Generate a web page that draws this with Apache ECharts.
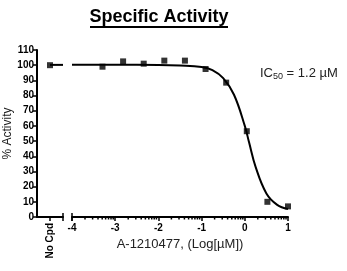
<!DOCTYPE html>
<html>
<head>
<meta charset="utf-8">
<script src="https://cdn.jsdelivr.net/npm/echarts@6/dist/echarts.min.js"></script>
<style>html,body{margin:0;padding:0;background:#fff;}#c{width:347px;height:271px;}</style>
</head>
<body>
<div id="c"></div>
<script>
// ---- data ----
var noCpdLabel = ['No Cpd'];
var noCpdValue = [100];
var logConc = [-3.294, -2.817, -2.340, -1.863, -1.386, -0.908, -0.431, 0.046, 0.523, 1.0];
var activity = [99, 102.5, 101, 103, 103, 97.5, 88.5, 56.5, 10, 7];
// fitted curve
var curveX = [-4, -3, -2, -1.5, -1, -0.75, -0.5, -0.25, 0, 0.1, 0.25, 0.5, 0.75, 1];
var curveY = [100.3, 100.3, 100.2, 99.8, 98.8, 96.8, 91.5, 80.5, 60, 49, 33, 15.5, 8, 5.3];
var noCpdLine = [100.2, 100.2];
var yTicks = [0, 10, 20, 30, 40, 50, 60, 70, 80, 90, 100, 110];
var xTicks = [-4, -3, -2, -1, 0, 1];
var titleText = 'Specific Activity';
var xName = 'A-1210477, (Log[\u00b5M])';
var yName = '% Activity';

var FONT = 'Arial, "Liberation Sans", sans-serif';
var minorTicks = [];
for (var d = xTicks[0]; d < xTicks[xTicks.length - 1]; d++) {
  for (var k = 2; k <= 9; k++) minorTicks.push([d + Math.log10(k)]);
}

var chart = echarts.init(document.getElementById('c'));
function tickRender(len, up) {
  return function (params, api) {
    var p = api.coord([api.value(0), 0]);
    return {
      type: 'line',
      shape: { x1: p[0], y1: p[1] - up, x2: p[0], y2: p[1] + len },
      style: { stroke: '#000', lineWidth: 1.5 }
    };
  };
}
var axisLineStyle = { color: '#000', width: 2 };
chart.setOption({
  animation: false,
  graphic: [
    { type: 'text', x: 159, y: 17, style: { text: titleText, font: 'bold 18px ' + FONT, fill: '#000', textAlign: 'center', textVerticalAlign: 'middle' } },
    { type: 'line', shape: { x1: 90, y1: 27, x2: 228, y2: 27 }, style: { stroke: '#000', lineWidth: 2 } },
    { type: 'text', x: 260, y: 73, style: {
        text: '{n|IC}{s|50}{n| = 1.2 \u00b5M}',
        rich: { n: { fontSize: 13, fontFamily: FONT, fill: '#222' }, s: { fontSize: 9, fontFamily: FONT, fill: '#222', padding: [7, 0, 0, 0] } },
        textVerticalAlign: 'middle'
    } }
  ],
  grid: [
    { left: 37, width: 26, top: 50, height: 167 },
    { left: 72, width: 216, top: 50, height: 167 }
  ],
  xAxis: [
    { gridIndex: 0, type: 'value', min: 0, max: 2, interval: 1,
      axisLine: { lineStyle: axisLineStyle }, splitLine: { show: false },
      axisTick: { customValues: [1], length: 4, lineStyle: { color: '#000', width: 1.5 } },
      axisLabel: { customValues: [1], formatter: function () { return noCpdLabel[0]; }, rotate: 90, margin: 6,
        fontSize: 10, fontWeight: 'bold', fontFamily: FONT, color: '#000' } },
    { gridIndex: 1, type: 'value', min: xTicks[0], max: xTicks[xTicks.length - 1], interval: 1,
      axisLine: { lineStyle: axisLineStyle }, splitLine: { show: false },
      axisTick: { length: 4, lineStyle: { color: '#000', width: 1.5 } },
      axisLabel: { margin: 6, fontSize: 10, fontWeight: 'bold', fontFamily: FONT, color: '#000' },
      name: xName, nameLocation: 'middle', nameGap: 19,
      nameTextStyle: { fontSize: 13, fontFamily: FONT, color: '#222' } }
  ],
  yAxis: [
    { gridIndex: 0, type: 'value', min: yTicks[0], max: yTicks[yTicks.length - 1], interval: 10,
      axisLine: { show: true, lineStyle: axisLineStyle }, splitLine: { show: false },
      axisTick: { show: true, length: 4, lineStyle: { color: '#000', width: 1.5 } },
      axisLabel: { margin: 3, fontSize: 10, fontWeight: 'bold', fontFamily: FONT, color: '#000' },
      name: yName, nameLocation: 'middle', nameGap: 21,
      nameTextStyle: { fontSize: 12, fontFamily: FONT, color: '#222' } },
    { gridIndex: 1, type: 'value', min: yTicks[0], max: yTicks[yTicks.length - 1], interval: 10, show: false }
  ],
  series: [
    { type: 'line', xAxisIndex: 0, yAxisIndex: 0, data: [[1, noCpdLine[0]], [2, noCpdLine[1]]], showSymbol: false,
      lineStyle: { color: '#000', width: 2 }, silent: true },
    { type: 'scatter', xAxisIndex: 0, yAxisIndex: 0, data: [[1, noCpdValue[0]]], symbol: 'rect', symbolSize: 6,
      itemStyle: { color: '#000' } },
    { type: 'line', xAxisIndex: 1, yAxisIndex: 1, data: curveX.map(function (x, i) { return [x, curveY[i]]; }),
      smooth: 0.4, showSymbol: false, lineStyle: { color: '#000', width: 2 }, silent: true },
    { type: 'scatter', xAxisIndex: 1, yAxisIndex: 1, data: logConc.map(function (x, i) { return [x, activity[i]]; }),
      symbol: 'rect', symbolSize: 6, itemStyle: { color: '#000' } },
    { type: 'custom', xAxisIndex: 1, yAxisIndex: 1, data: minorTicks, renderItem: tickRender(2.5, 0), clip: false, silent: true },
    { type: 'custom', xAxisIndex: 1, yAxisIndex: 1, data: [[xTicks[0]]], renderItem: tickRender(4, 4), clip: false, silent: true },
    { type: 'custom', xAxisIndex: 0, yAxisIndex: 0, data: [[2]], renderItem: tickRender(4, 4), clip: false, silent: true }
  ]
});
</script>
</body>
</html>
